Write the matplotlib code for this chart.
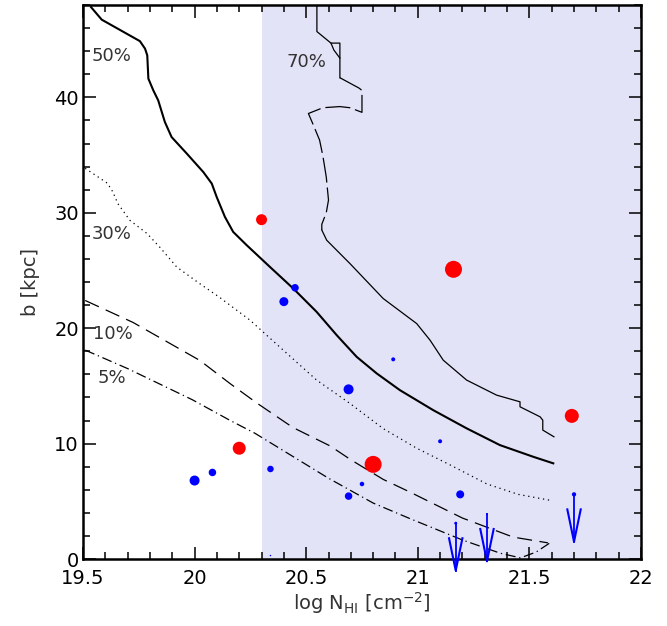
import matplotlib
matplotlib.use("Agg")
import matplotlib.pyplot as plt
import numpy as np

# detections (log N_HI, b [kpc], marker diameter in px)
red_x = [20.30, 21.16, 20.20, 20.80, 21.69]
red_y = [29.4, 25.1, 9.6, 8.2, 12.4]
red_d = [11, 17, 13, 17, 14]

blue_x = [20.00, 20.08, 20.34, 20.40, 20.45, 20.69, 20.69, 20.75, 20.89, 21.10, 21.19, 20.34]
blue_y = [6.8, 7.5, 7.8, 22.3, 23.5, 14.7, 5.45, 6.5, 17.3, 10.2, 5.6, 0.3]
blue_d = [10, 7.5, 6.5, 9, 7.5, 10, 7.5, 4.5, 4, 4, 8, 1.5]

# upper limits
lim_x = [21.17, 21.31, 21.70]
lim_y = [3.1, 3.9, 5.6]
lim_d = [3, 2, 4.3]

# contours
c50_x = [19.536, 19.584, 19.755, 19.778, 19.788, 19.793, 19.815, 19.837, 19.867, 19.897,
         19.965, 20.039, 20.077, 20.099, 20.136, 20.173, 20.233, 20.338, 20.442, 20.547,
         20.637, 20.726, 20.816, 20.92, 21.069, 21.219, 21.368, 21.517, 21.607]
c50_y = [47.82, 46.73, 44.87, 44.22, 43.64, 41.62, 40.61, 39.74, 37.86, 36.56,
         35.13, 33.53, 32.53, 31.37, 29.64, 28.34, 27.2, 25.3, 23.44, 21.41,
         19.39, 17.52, 16.08, 14.63, 12.9, 11.32, 9.87, 8.86, 8.29]

c30_x = [19.51, 19.61, 19.634, 19.656, 19.71, 19.787, 19.845, 19.92, 20.02, 20.11, 20.248,
         20.397, 20.547, 20.696, 20.845, 20.995, 21.14, 21.31, 21.45, 21.59]
c30_y = [33.85, 32.55, 31.8, 30.8, 29.35, 28.2, 27.0, 25.3, 23.9, 22.7, 20.7,
         18.1, 15.5, 13.48, 11.3, 9.6, 8.2, 6.5, 5.6, 5.1]

c10_x = [19.51, 19.724, 20.024, 20.159, 20.28, 20.44, 20.607, 20.7, 20.845, 20.965, 21.2,
         21.427, 21.583]
c10_y = [22.4, 20.5, 17.2, 15.2, 13.5, 11.4, 9.8, 8.6, 6.9, 5.8, 3.55,
         1.9, 1.4]

c5_x = [19.51, 19.70, 19.99, 20.16, 20.27, 20.6, 20.8, 20.965, 21.2, 21.37, 21.46, 21.53, 21.6]
c5_y = [18.1, 16.5, 13.8, 12.0, 10.9, 7.0, 4.85, 3.5, 1.65, 0.5, 0.1, 0.6, 1.5]

c70a_x = [20.548, 20.548, 20.611, 20.651, 20.651]
c70a_y = [48.0, 45.7, 44.7, 44.7, 41.7]
c70b_x = [20.651, 20.737, 20.75, 20.75, 20.696, 20.651, 20.575, 20.51, 20.53, 20.56, 20.575,
          20.59, 20.6, 20.59, 20.57, 20.57]
c70b_y = [41.7, 40.8, 40.6, 38.7, 39.1, 39.2, 39.1, 38.6, 37.7, 36.3, 34.9,
          33.1, 31.1, 30.0, 29.0, 28.5]
c70c_x = [20.57, 20.592, 20.696, 20.845, 20.995, 21.055, 21.114, 21.219, 21.353, 21.458, 21.458,
          21.548, 21.56, 21.56, 21.61]
c70c_y = [28.5, 27.62, 25.6, 22.57, 20.4, 18.96, 17.23, 15.5, 14.2, 13.62, 13.19,
          12.32, 12.03, 11.17, 10.59]
c70t_x = [20.611, 20.624, 20.651]
c70t_y = [44.7, 44.1, 43.4]

labels = ["50%", "70%", "30%", "10%", "5%"]
label_x = [19.63, 20.50, 19.63, 19.633, 19.63]
label_y = [43.55, 43.1, 28.2, 19.5, 15.7]

plt.rcParams['font.family'] = 'DejaVu Sans'
fig = plt.figure(figsize=(6.67, 6.26), dpi=100)
ax = fig.add_axes([0.1244, 0.107, 0.8366, 0.885])

ax.axvspan(20.3, 22, color='#e3e3f8', lw=0, zorder=0)

ax.plot(c50_x, c50_y, color='black', lw=1.5)
ax.plot(c30_x, c30_y, color='black', lw=0.9, ls=(0, (1, 3)))
ax.plot(c10_x, c10_y, color='black', lw=0.9, ls=(0, (12, 6)))
ax.plot(c5_x, c5_y, color='black', lw=0.9, ls=(0, (8, 3, 1, 3)))
ax.plot(c70a_x, c70a_y, color='black', lw=0.9)
ax.plot(c70b_x, c70b_y, color='black', lw=0.9, ls=(0, (20, 4)))
ax.plot(c70c_x, c70c_y, color='black', lw=0.9)
ax.plot(c70t_x, c70t_y, color='black', lw=0.9)

def px2s(d):
    return [(v * 0.72) ** 2 for v in d]

ax.scatter(red_x, red_y, s=px2s(red_d), color='#ff0000', lw=0, zorder=5)
ax.scatter(blue_x, blue_y, s=px2s(blue_d), color='#0000ff', lw=0, zorder=5)
ax.scatter(lim_x, lim_y, s=px2s(lim_d), color='#0000ff', lw=0, zorder=5)

# upper limit arrows
arrow_len = 4.1
head_len = 2.8
head_w = 0.03
for x, y in zip(lim_x, lim_y):
    tip = y - arrow_len
    ax.plot([x, x], [y, tip], color='#0000ff', lw=1.3, clip_on=False, zorder=6)
    ax.plot([x - head_w, x, x + head_w], [tip + head_len, tip, tip + head_len],
            color='#0000ff', lw=1.5, clip_on=False, zorder=6)

for t, x, y in zip(labels, label_x, label_y):
    ax.text(x, y, t, ha='center', va='center', fontsize=13, color='#333333')

ax.set_xlim(19.5, 22)
ax.set_ylim(0, 48)
ax.set_xticks([19.5, 20, 20.5, 21, 21.5, 22])
ax.set_xticklabels(['19.5', '20', '20.5', '21', '21.5', '22'])
ax.set_xticks(np.arange(19.5, 22.01, 0.1), minor=True)
ax.set_yticks([0, 10, 20, 30, 40])
ax.set_yticks(np.arange(0, 48.1, 2), minor=True)
ax.tick_params(which='both', direction='in', top=True, right=True, labelsize=14, width=1.1)
ax.tick_params(which='major', length=9)
ax.tick_params(which='minor', length=5)
ax.tick_params(axis='x', which='major', pad=7)
ax.tick_params(axis='y', which='major', pad=3)
for s in ax.spines.values():
    s.set_linewidth(1.8)

ax.set_xlabel(r'log N$_{\rm HI}$ [cm$^{-2}$]', fontsize=14, color='#333333', labelpad=2)
ax.set_ylabel('b [kpc]', fontsize=14, color='#333333', labelpad=10)

fig.savefig('out.png', dpi=100)
